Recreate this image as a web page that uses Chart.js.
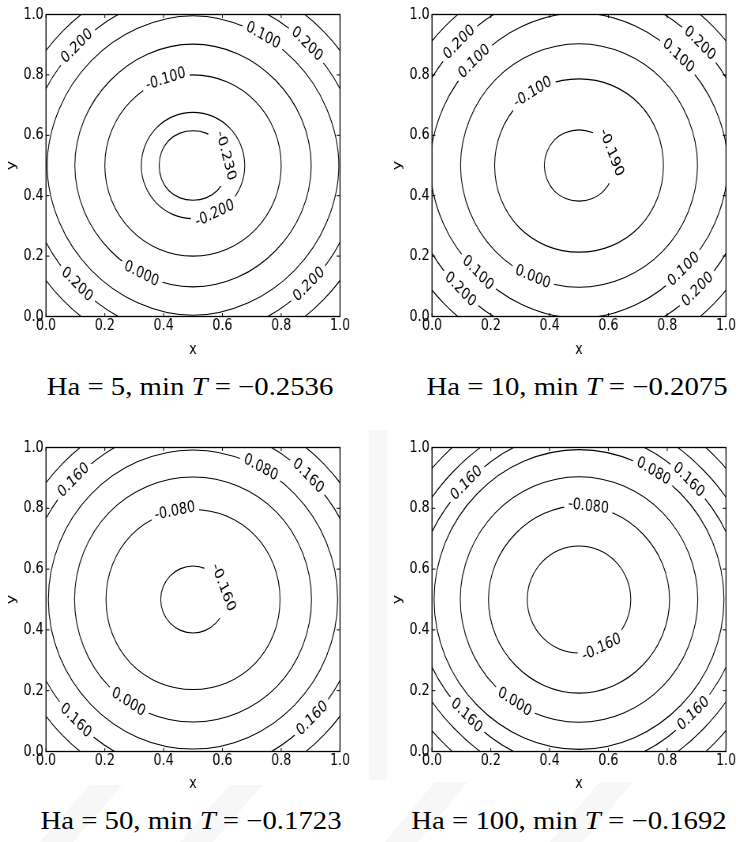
<!DOCTYPE html>
<html>
<head>
<meta charset="utf-8">
<script src="https://cdn.jsdelivr.net/npm/chart.js@4.4.0/dist/chart.umd.min.js"></script>
<style>
  html, body { margin: 0; padding: 0; background: #fff; width: 738px; height: 842px; overflow: hidden; }
  canvas.panel { position: absolute; transform-origin: 0 0; }
  .cap { position: absolute; font-family: "Liberation Serif", "Times New Roman", serif; font-size: 25px;
         line-height: 25px; white-space: nowrap; color: #000; }
  .wm { position: absolute; background: #f7f7f7; }
</style>
</head>
<body>
<!-- faint background mark behind the lower row -->
<div class="wm" style="left:369px; top:430px; width:18px; height:350px;"></div>
<div class="wm" style="left:40px; top:785px; width:110px; height:57px; clip-path: polygon(0 100%, 45% 0, 75% 0, 30% 100%);"></div>
<div class="wm" style="left:180px; top:785px; width:110px; height:57px; clip-path: polygon(0 100%, 45% 0, 75% 0, 30% 100%);"></div>
<div class="wm" style="left:385px; top:782px; width:110px; height:60px; clip-path: polygon(0 100%, 45% 0, 75% 0, 30% 100%);"></div>
<div class="wm" style="left:550px; top:782px; width:110px; height:60px; clip-path: polygon(0 100%, 45% 0, 75% 0, 30% 100%);"></div>
<script>
// sample angles (deg) around the cavity centre, one radius per angle
const ANGLES = [0, 22.5, 45, 67.5, 90, 112.5, 135, 157.5, 180, 202.5, 225, 247.5, 270, 292.5, 315, 337.5];
const X_TICKS = [0, 0.2, 0.4, 0.6, 0.8, 1.0];
const Y_TICKS = [0, 0.2, 0.4, 0.6, 0.8, 1.0];

const HA = [5, 10, 50, 100];
const MIN_T = [-0.2536, -0.2075, -0.1723, -0.1692];

// Ha = 5
const LEVELS_HA5 = [-0.23, -0.2, -0.1, 0.0, 0.1, 0.2, 0.3];
const RADII_HA5 = [
  [0.115, 0.116, 0.117, 0.116, 0.115, 0.116, 0.117, 0.116, 0.115, 0.116, 0.117, 0.116, 0.115, 0.116, 0.117, 0.116],
  [0.176, 0.176, 0.176, 0.176, 0.176, 0.176, 0.176, 0.176, 0.176, 0.176, 0.176, 0.176, 0.176, 0.176, 0.176, 0.176],
  [0.300, 0.300, 0.300, 0.300, 0.300, 0.300, 0.300, 0.300, 0.300, 0.300, 0.300, 0.300, 0.300, 0.300, 0.300, 0.300],
  [0.402, 0.400, 0.398, 0.400, 0.402, 0.400, 0.398, 0.400, 0.402, 0.400, 0.398, 0.400, 0.402, 0.400, 0.398, 0.400],
  [0.496, 0.492, 0.490, 0.492, 0.496, 0.492, 0.490, 0.492, 0.496, 0.492, 0.490, 0.492, 0.496, 0.492, 0.490, 0.492],
  [0.566, 0.562, 0.558, 0.562, 0.566, 0.562, 0.558, 0.562, 0.566, 0.562, 0.558, 0.562, 0.566, 0.562, 0.558, 0.562],
  [0.632, 0.630, 0.628, 0.630, 0.632, 0.630, 0.628, 0.630, 0.632, 0.630, 0.628, 0.630, 0.632, 0.630, 0.628, 0.630]
];
const LABEL_AT_HA5 = [[0.2, 135], [0.1, 61], [0.2, 46], [-0.1, 108], [-0.23, 16], [-0.2, -65], [0.0, -116], [0.2, -135], [0.2, -45]];

// Ha = 10
const LEVELS_HA10 = [-0.19, -0.1, 0.0, 0.1, 0.2, 0.3];
const RADII_HA10 = [
  [0.118, 0.118, 0.119, 0.118, 0.118, 0.118, 0.119, 0.118, 0.118, 0.118, 0.119, 0.118, 0.118, 0.118, 0.119, 0.118],
  [0.287, 0.288, 0.289, 0.288, 0.287, 0.288, 0.289, 0.288, 0.287, 0.288, 0.289, 0.288, 0.287, 0.288, 0.289, 0.288],
  [0.403, 0.402, 0.402, 0.402, 0.403, 0.402, 0.402, 0.402, 0.403, 0.402, 0.402, 0.402, 0.403, 0.402, 0.402, 0.402],
  [0.506, 0.500, 0.495, 0.500, 0.506, 0.500, 0.495, 0.500, 0.506, 0.500, 0.495, 0.500, 0.506, 0.500, 0.495, 0.500],
  [0.584, 0.580, 0.576, 0.580, 0.584, 0.580, 0.576, 0.580, 0.584, 0.580, 0.576, 0.580, 0.584, 0.580, 0.576, 0.580],
  [0.652, 0.650, 0.648, 0.650, 0.652, 0.650, 0.648, 0.650, 0.652, 0.650, 0.648, 0.650, 0.652, 0.650, 0.648, 0.650]
];
const LABEL_AT_HA10 = [[0.2, 135], [0.1, 136], [-0.1, 123], [-0.19, 21], [0.2, 44.5], [0.1, 47], [0.1, -134], [0.2, -134.5], [0.0, -113], [0.1, -44], [0.2, -45.5]];

// Ha = 50
const LEVELS_HA50 = [-0.16, -0.08, 0.0, 0.08, 0.16, 0.24];
const RADII_HA50 = [
  [0.110, 0.110, 0.110, 0.110, 0.110, 0.110, 0.110, 0.110, 0.110, 0.110, 0.110, 0.110, 0.110, 0.110, 0.110, 0.110],
  [0.296, 0.297, 0.298, 0.297, 0.296, 0.297, 0.298, 0.297, 0.296, 0.297, 0.298, 0.297, 0.296, 0.297, 0.298, 0.297],
  [0.403, 0.403, 0.404, 0.403, 0.403, 0.403, 0.404, 0.403, 0.403, 0.403, 0.404, 0.403, 0.403, 0.403, 0.404, 0.403],
  [0.492, 0.491, 0.490, 0.491, 0.492, 0.491, 0.490, 0.491, 0.492, 0.491, 0.490, 0.491, 0.492, 0.491, 0.490, 0.491],
  [0.572, 0.568, 0.564, 0.568, 0.572, 0.568, 0.564, 0.568, 0.572, 0.568, 0.564, 0.568, 0.572, 0.568, 0.564, 0.568],
  [0.634, 0.632, 0.630, 0.632, 0.634, 0.632, 0.630, 0.632, 0.634, 0.632, 0.630, 0.632, 0.634, 0.632, 0.630, 0.632]
];
const LABEL_AT_HA50 = [[0.16, 136], [0.08, 62], [0.16, 46], [-0.08, 102], [-0.16, 21], [0.0, -123], [0.16, -135], [0.16, -44]];

// Ha = 100
const LEVELS_HA100 = [-0.16, -0.08, 0.0, 0.08, 0.16, 0.24, 0.32];
const RADII_HA100 = [
  [0.176, 0.176, 0.176, 0.176, 0.176, 0.176, 0.176, 0.176, 0.176, 0.176, 0.176, 0.176, 0.176, 0.176, 0.176, 0.176],
  [0.308, 0.307, 0.306, 0.307, 0.308, 0.307, 0.306, 0.307, 0.308, 0.307, 0.306, 0.307, 0.308, 0.307, 0.306, 0.307],
  [0.404, 0.403, 0.403, 0.403, 0.404, 0.403, 0.403, 0.403, 0.404, 0.403, 0.403, 0.403, 0.404, 0.403, 0.403, 0.403],
  [0.493, 0.492, 0.491, 0.492, 0.493, 0.492, 0.491, 0.492, 0.493, 0.492, 0.491, 0.492, 0.493, 0.492, 0.491, 0.492],
  [0.556, 0.548, 0.541, 0.548, 0.556, 0.548, 0.541, 0.548, 0.556, 0.548, 0.541, 0.548, 0.556, 0.548, 0.541, 0.548],
  [0.614, 0.607, 0.600, 0.607, 0.614, 0.607, 0.600, 0.607, 0.614, 0.607, 0.600, 0.607, 0.614, 0.607, 0.600, 0.607],
  [0.668, 0.664, 0.660, 0.664, 0.668, 0.664, 0.660, 0.664, 0.668, 0.664, 0.660, 0.664, 0.668, 0.664, 0.660, 0.664]
];
const LABEL_AT_HA100 = [[0.16, 135], [0.08, 59], [0.16, 46.5], [-0.08, 84], [-0.16, -64], [0.0, -123], [0.16, -135], [0.16, -44]];

// horizontal squash of the plot canvases (text and frame are narrower than tall)
const SX = 0.79;
const FONT_FAMILY = 'DejaVu Sans';
const FONT_SIZE = 16;
const TENSION = 0.343;

const panels = [
  { levels: LEVELS_HA5,   radii: RADII_HA5,   labels: LABEL_AT_HA5,   left: 46,    top: 14.5, h: 302, titleY: 349.5, capX: 190, capTop: 374 },
  { levels: LEVELS_HA10,  radii: RADII_HA10,  labels: LABEL_AT_HA10,  left: 432.3, top: 14,   h: 302, titleY: 349.5, capX: 577, capTop: 374 },
  { levels: LEVELS_HA50,  radii: RADII_HA50,  labels: LABEL_AT_HA50,  left: 46,    top: 447,  h: 304, titleY: 783,   capX: 191, capTop: 808 },
  { levels: LEVELS_HA100, radii: RADII_HA100, labels: LABEL_AT_HA100, left: 432.3, top: 447,  h: 304, titleY: 783,   capX: 569, capTop: 808 }
];

function contourData(r) {
  const pts = ANGLES.map((a, i) => {
    const t = a * Math.PI / 180;
    return { x: 0.5 + r[i] * Math.cos(t), y: 0.5 + r[i] * Math.sin(t) };
  });
  const n = pts.length;
  // one extra point on each side so the spline closes without a kink
  return [pts[n - 1], ...pts, pts[0], pts[1]];
}

function radiusAt(r, deg) {
  const step = 360 / ANGLES.length;
  const a = ((deg % 360) + 360) % 360;
  const i = Math.floor(a / step), f = a / step - i;
  return r[i] * (1 - f) + r[(i + 1) % r.length] * f;
}

function line(ctx, x1, y1, x2, y2) {
  ctx.beginPath(); ctx.moveTo(x1, y1); ctx.lineTo(x2, y2); ctx.stroke();
}

// inline contour labels: cut a gap in the own contour, write the level, then draw the frame
function labelPlugin(p) {
  let items = [];
  const font = FONT_SIZE + 'px "' + FONT_FAMILY + '"';
  return {
    id: 'contourLabels',
    beforeDatasetsDraw(chart) {
      const xs = chart.scales.x, ys = chart.scales.y, ctx = chart.ctx;
      const px = (deg, r) => {
        const t = deg * Math.PI / 180;
        return { x: xs.getPixelForValue(0.5 + r * Math.cos(t)), y: ys.getPixelForValue(0.5 + r * Math.sin(t)) };
      };
      ctx.font = font;
      items = p.labels.map(([level, deg]) => {
        const k = p.levels.indexOf(level);
        const r = p.radii[k];
        const c = px(deg, radiusAt(r, deg));
        const a = px(deg - 0.5, radiusAt(r, deg - 0.5));
        const b = px(deg + 0.5, radiusAt(r, deg + 0.5));
        let rot = Math.atan2(b.y - a.y, b.x - a.x);
        if (rot > Math.PI / 2) rot -= Math.PI;
        if (rot <= -Math.PI / 2) rot += Math.PI;
        const text = level.toFixed(3);
        return { ds: k, x: c.x, y: c.y, rot, text, gap: ctx.measureText(text).width / 2 + 5 };
      });
    },
    beforeDatasetDraw(chart, args) {
      const ctx = chart.ctx;
      ctx.save();
      const gaps = items.filter(it => it.ds === args.index);
      if (!gaps.length) return;
      ctx.beginPath();
      ctx.rect(0, 0, chart.width, chart.height);
      gaps.forEach(g => { ctx.moveTo(g.x + g.gap, g.y); ctx.arc(g.x, g.y, g.gap, 0, Math.PI * 2); });
      ctx.clip('evenodd');
    },
    afterDatasetDraw(chart) {
      chart.ctx.restore();
    },
    afterDatasetsDraw(chart) {
      const ctx = chart.ctx;
      const { left, right, top, bottom } = chart.chartArea;
      const xs = chart.scales.x, ys = chart.scales.y;
      ctx.save();
      ctx.font = font;
      ctx.fillStyle = '#000';
      ctx.textAlign = 'center';
      ctx.textBaseline = 'middle';
      items.forEach(it => {
        ctx.save();
        ctx.translate(it.x, it.y);
        ctx.rotate(it.rot);
        ctx.fillText(it.text, 0, 0);
        ctx.restore();
      });
      ctx.strokeStyle = '#000';
      ctx.lineWidth = 1;
      X_TICKS.forEach(v => {
        const x = xs.getPixelForValue(v);
        line(ctx, x, bottom, x, bottom - 3.5);
        line(ctx, x, top, x, top + 3.5);
      });
      Y_TICKS.forEach(v => {
        const y = ys.getPixelForValue(v);
        line(ctx, left, y, left + 4.2, y);
        line(ctx, right, y, right - 4.2, y);
      });
      ctx.lineWidth = 1.3;
      ctx.strokeRect(left, top, right - left, bottom - top);
      ctx.restore();
    }
  };
}

panels.forEach((p, i) => {
  const padTop = 14.5;
  const yW = 46 / SX;
  const chartW = 294 / SX;
  const W = Math.ceil(yW + chartW + 12 / SX);
  const H = Math.ceil(padTop + p.h + 48);
  const canvasTop = p.top - padTop;
  const xAxisH = H - padTop - p.h;
  const lh = FONT_SIZE * 1.2;

  const cv = document.createElement('canvas');
  cv.className = 'panel';
  cv.width = W; cv.height = H;
  cv.style.left = (p.left - 46) + 'px';
  cv.style.top = canvasTop + 'px';
  cv.style.transform = 'scaleX(' + SX + ')';
  document.body.appendChild(cv);

  const font = { family: FONT_FAMILY, size: FONT_SIZE };
  const datasets = p.levels.map((lv, k) => {
    const data = contourData(p.radii[k]);
    const last = data.length - 1;
    return {
      label: lv.toFixed(3),
      data,
      showLine: true,
      borderColor: '#000',
      borderWidth: 1.1,
      pointRadius: 0,
      pointHitRadius: 0,
      tension: TENSION,
      segment: { borderColor: c => (c.p0DataIndex === 0 || c.p1DataIndex === last) ? 'rgba(0,0,0,0)' : undefined }
    };
  });

  new Chart(cv, {
    type: 'scatter',
    data: { datasets },
    options: {
      responsive: false,
      animation: false,
      devicePixelRatio: 1,
      events: [],
      layout: { padding: { top: padTop, right: W - yW - chartW, left: 0, bottom: 0 } },
      elements: { line: { capBezierPoints: false } },
      plugins: { legend: { display: false }, tooltip: { enabled: false } },
      scales: {
        x: {
          type: 'linear', min: 0, max: 1,
          grid: { display: false, drawTicks: false },
          border: { display: false },
          afterBuildTicks: s => { s.ticks = X_TICKS.map(v => ({ value: v })); },
          ticks: { autoSkip: false, maxRotation: 0, minRotation: 0, padding: 0, color: '#000', font,
                   callback: v => v.toFixed(1) },
          title: { display: true, text: 'x', color: '#000', font,
                   padding: { top: 0, bottom: H - lh / 2 - (p.titleY - canvasTop) } },
          afterFit: s => { s.height = xAxisH; }
        },
        y: {
          type: 'linear', min: 0, max: 1,
          grid: { display: false, drawTicks: false },
          border: { display: false },
          afterBuildTicks: s => { s.ticks = Y_TICKS.map(v => ({ value: v })); },
          ticks: { autoSkip: false, padding: 3, color: '#000', font, callback: v => v.toFixed(1) },
          title: { display: true, text: 'y', color: '#000', font, padding: { top: 5, bottom: 0 } },
          afterFit: s => { s.width = yW; }
        }
      }
    },
    plugins: [labelPlugin(p)]
  });

  const cap = document.createElement('div');
  cap.className = 'cap';
  cap.innerHTML = 'Ha = ' + HA[i] + ', min <i>T</i> = \u2212' + Math.abs(MIN_T[i]).toFixed(4);
  cap.style.left = p.capX + 'px';
  cap.style.top = p.capTop + 'px';
  cap.style.transform = 'translateX(-50%) scaleX(1.15)';
  document.body.appendChild(cap);
});
</script>
</body>
</html>
